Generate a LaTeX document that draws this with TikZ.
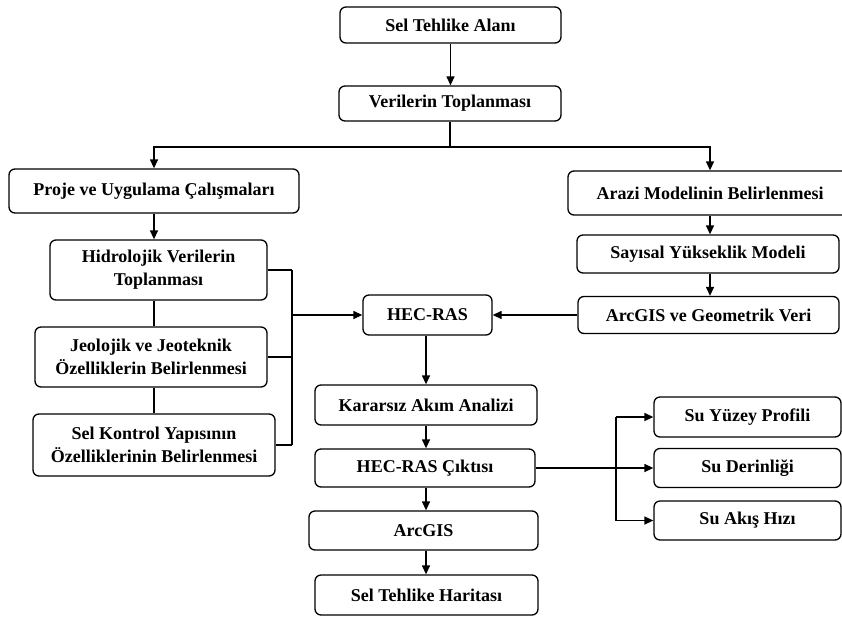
\documentclass[tikz,border=0pt]{standalone}
\usepackage{fontspec}
\setmainfont{Liberation Serif}
\usetikzlibrary{arrows.meta,calc}
\begin{document}
\begin{tikzpicture}[x=1pt,y=-1pt,
 box/.style={draw,line width=1.3pt,rounded corners=6pt,inner sep=0pt,align=center,
   font=\fontsize{18}{23}\selectfont\bfseries},
 conn/.style={line width=1.3pt},
 arr/.style={conn,-{Triangle[length=9pt,width=8pt]}}]
\useasboundingbox (0,0) rectangle (842,616);
% nodes
\node[box,minimum width=221,minimum height=36] (sel) at (450.5,25) {Sel Tehlike Alanı};
\node[box,minimum width=222,minimum height=35] (ver) at (450,103.5) {Verilerin Toplanması};
\node[box,minimum width=290,minimum height=44] (proje) at (154,191) {Proje ve Uygulama Çalışmaları};
\node[box,minimum width=284,minimum height=44] (arazi) at (710,193) {Arazi Modelinin Belirlenmesi};
\node[box,minimum width=217,minimum height=60] (hidro) at (158.5,270) {Hidrolojik Verilerin\\Toplanması};
\node[box,minimum width=232,minimum height=60] (jeo) at (151,357) {Jeolojik ve Jeoteknik\\Özelliklerin Belirlenmesi};
\node[box,minimum width=242,minimum height=62] (selk) at (154,445) {Sel Kontrol Yapısının\\Özelliklerinin Belirlenmesi};
\node[box,minimum width=129,minimum height=40] (hec) at (427.5,315) {HEC-RAS};
\node[box,minimum width=262,minimum height=38] (sayi) at (708,254) {Sayısal Yükseklik Modeli};
\node[box,minimum width=261,minimum height=37] (arcgeo) at (708.5,315) {ArcGIS ve Geometrik Veri};
\node[box,minimum width=222,minimum height=40] (karar) at (426,405) {Kararsız Akım Analizi};
\node[box,minimum width=220,minimum height=38] (cikti) at (425,468) {HEC-RAS Çıktısı};
\node[box,minimum width=229,minimum height=39] (arcgis) at (423.5,530.5) {ArcGIS};
\node[box,minimum width=223,minimum height=40] (harita) at (426.5,595) {Sel Tehlike Haritası};
\node[box,minimum width=187,minimum height=40] (yuzey) at (747.5,417) {Su Yüzey Profili};
\node[box,minimum width=187,minimum height=39] (derin) at (747.5,468) {Su Derinliği};
\node[box,minimum width=187,minimum height=39] (akis) at (747.5,520.5) {Su Akış Hızı};
% connectors
\draw[arr] (sel.south) -- (sel.south |- ver.north);
\coordinate (split) at (450,147);
\draw[conn] (ver.south) -- (split);
\draw[arr] (split) -| (proje.north);
\draw[arr] (split) -| (arazi.north);
\draw[arr] (proje.south) -- (proje.south |- hidro.north);
\draw[conn] (proje.south |- hidro.south) -- (proje.south |- jeo.north);
\draw[conn] (proje.south |- jeo.south) -- (proje.south |- selk.north);
\coordinate (bx) at (292,315);
\draw[conn] (hidro.east) -- (hidro.east -| bx);
\draw[conn] (jeo.east) -- (jeo.east -| bx);
\draw[conn] (selk.east) -- (selk.east -| bx);
\draw[conn] (hidro.east -| bx) -- (selk.east -| bx);
\draw[arr] (bx) -- (hec.west);
\draw[arr] (arcgeo.west) -- (arcgeo.west -| hec.east);
\draw[arr] (arazi.south) -- (arazi.south |- sayi.north);
\draw[arr] (arazi.south |- sayi.south) -- (arazi.south |- arcgeo.north);
\draw[arr] (karar.north |- hec.south) -- (karar.north);
\draw[arr] (karar.south) -- (karar.south |- cikti.north);
\draw[arr] (karar.south |- cikti.south) -- (karar.south |- arcgis.north);
\draw[arr] (karar.south |- arcgis.south) -- (karar.south |- harita.north);
\coordinate (sx) at (616,468);
\draw[arr] (cikti.east) -- (cikti.east -| derin.west);
\draw[conn] (sx |- yuzey.west) -- (sx |- akis.west);
\draw[arr] (sx |- yuzey.west) -- (yuzey.west);
\draw[arr] (sx |- akis.west) -- (akis.west);
\end{tikzpicture}
\end{document}
